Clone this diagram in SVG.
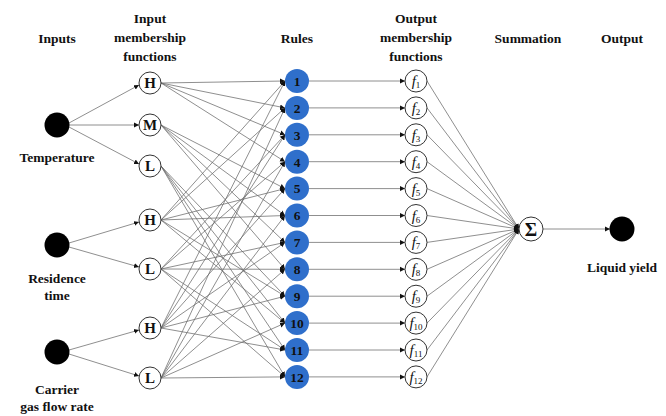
<svg xmlns="http://www.w3.org/2000/svg" width="666" height="416" viewBox="0 0 666 416">
<defs>
<marker id="ah" markerUnits="userSpaceOnUse" markerWidth="6" markerHeight="6" refX="5" refY="3" orient="auto">
<path d="M0,0.5 L5,3 L0,5.5 Z" fill="#111"/>
</marker>
<style>
text{font-family:'Liberation Serif','Times New Roman','DejaVu Serif',serif}
.hd{font-weight:bold;font-size:13.5px;fill:#111;text-anchor:middle}
.lb{font-weight:bold;font-size:13.5px;fill:#111;text-anchor:middle}
.mf{fill:#fff;stroke:#333;stroke-width:1}
.mt{font-weight:bold;font-size:15px;fill:#111;text-anchor:middle}
.sg{font-weight:bold;font-size:19px;fill:#111;text-anchor:middle}
.ru{fill:#2f6fcb;stroke:none}
.rt{font-weight:bold;font-size:13.5px;fill:#111;text-anchor:middle}
.ft{font-style:italic;font-size:15px;fill:#111;text-anchor:middle}
.sub{font-size:9px;font-style:normal}
.inp{fill:#000}
.ca{stroke:#6a6a6a;stroke-width:0.75;fill:none;marker-end:url(#ah)}
</style>
</defs>
<rect width="666" height="416" fill="#fff"/>
<g id="headers">
<text class="hd" x="57" y="43">Inputs</text>
<text class="hd" x="150" y="23">Input</text>
<text class="hd" x="150" y="42">membership</text>
<text class="hd" x="150" y="61">functions</text>
<text class="hd" x="297" y="43">Rules</text>
<text class="hd" x="416" y="23">Output</text>
<text class="hd" x="416" y="42">membership</text>
<text class="hd" x="416" y="61">functions</text>
<text class="hd" x="528" y="43">Summation</text>
<text class="hd" x="622" y="43">Output</text>
</g>
<g id="connectors">
<line class="ca" x1="69" y1="123" x2="139" y2="85"/>
<line class="ca" x1="69" y1="125" x2="139" y2="125"/>
<line class="ca" x1="69" y1="127" x2="139" y2="164"/>
<line class="ca" x1="69" y1="243" x2="139" y2="222"/>
<line class="ca" x1="69" y1="247" x2="139" y2="267"/>
<line class="ca" x1="69" y1="350" x2="139" y2="330"/>
<line class="ca" x1="69" y1="354" x2="139" y2="376"/>
<line class="ca" x1="161" y1="83" x2="285" y2="81"/>
<line class="ca" x1="161" y1="83" x2="285" y2="107.9"/>
<line class="ca" x1="161" y1="83" x2="285" y2="134.8"/>
<line class="ca" x1="161" y1="83" x2="285" y2="161.7"/>
<line class="ca" x1="161" y1="125" x2="285" y2="188.6"/>
<line class="ca" x1="161" y1="125" x2="285" y2="215.5"/>
<line class="ca" x1="161" y1="125" x2="285" y2="242.4"/>
<line class="ca" x1="161" y1="125" x2="285" y2="269.3"/>
<line class="ca" x1="161" y1="166" x2="285" y2="296.2"/>
<line class="ca" x1="161" y1="166" x2="285" y2="323.1"/>
<line class="ca" x1="161" y1="166" x2="285" y2="350"/>
<line class="ca" x1="161" y1="166" x2="285" y2="376.9"/>
<line class="ca" x1="161" y1="220" x2="285" y2="81"/>
<line class="ca" x1="161" y1="220" x2="285" y2="107.9"/>
<line class="ca" x1="161" y1="220" x2="285" y2="188.6"/>
<line class="ca" x1="161" y1="220" x2="285" y2="215.5"/>
<line class="ca" x1="161" y1="220" x2="285" y2="296.2"/>
<line class="ca" x1="161" y1="220" x2="285" y2="323.1"/>
<line class="ca" x1="161" y1="269" x2="285" y2="134.8"/>
<line class="ca" x1="161" y1="269" x2="285" y2="161.7"/>
<line class="ca" x1="161" y1="269" x2="285" y2="242.4"/>
<line class="ca" x1="161" y1="269" x2="285" y2="269.3"/>
<line class="ca" x1="161" y1="269" x2="285" y2="350"/>
<line class="ca" x1="161" y1="269" x2="285" y2="376.9"/>
<line class="ca" x1="161" y1="328" x2="285" y2="81"/>
<line class="ca" x1="161" y1="328" x2="285" y2="134.8"/>
<line class="ca" x1="161" y1="328" x2="285" y2="188.6"/>
<line class="ca" x1="161" y1="328" x2="285" y2="242.4"/>
<line class="ca" x1="161" y1="328" x2="285" y2="296.2"/>
<line class="ca" x1="161" y1="328" x2="285" y2="350"/>
<line class="ca" x1="161" y1="378" x2="285" y2="107.9"/>
<line class="ca" x1="161" y1="378" x2="285" y2="161.7"/>
<line class="ca" x1="161" y1="378" x2="285" y2="215.5"/>
<line class="ca" x1="161" y1="378" x2="285" y2="269.3"/>
<line class="ca" x1="161" y1="378" x2="285" y2="323.1"/>
<line class="ca" x1="161" y1="378" x2="285" y2="376.9"/>
<line class="ca" x1="309" y1="81" x2="405" y2="81"/>
<line class="ca" x1="309" y1="107.9" x2="405" y2="107.9"/>
<line class="ca" x1="309" y1="134.8" x2="405" y2="134.8"/>
<line class="ca" x1="309" y1="161.7" x2="405" y2="161.7"/>
<line class="ca" x1="309" y1="188.6" x2="405" y2="188.6"/>
<line class="ca" x1="309" y1="215.5" x2="405" y2="215.5"/>
<line class="ca" x1="309" y1="242.4" x2="405" y2="242.4"/>
<line class="ca" x1="309" y1="269.3" x2="405" y2="269.3"/>
<line class="ca" x1="309" y1="296.2" x2="405" y2="296.2"/>
<line class="ca" x1="309" y1="323.1" x2="405" y2="323.1"/>
<line class="ca" x1="309" y1="350" x2="405" y2="350"/>
<line class="ca" x1="309" y1="376.9" x2="405" y2="376.9"/>
<line class="ca" x1="427" y1="81" x2="519" y2="229"/>
<line class="ca" x1="427" y1="107.9" x2="519" y2="229"/>
<line class="ca" x1="427" y1="134.8" x2="519" y2="229"/>
<line class="ca" x1="427" y1="161.7" x2="519" y2="229"/>
<line class="ca" x1="427" y1="188.6" x2="519" y2="229"/>
<line class="ca" x1="427" y1="215.5" x2="519" y2="229"/>
<line class="ca" x1="427" y1="242.4" x2="519" y2="229"/>
<line class="ca" x1="427" y1="269.3" x2="519" y2="229"/>
<line class="ca" x1="427" y1="296.2" x2="519" y2="229"/>
<line class="ca" x1="427" y1="323.1" x2="519" y2="229"/>
<line class="ca" x1="427" y1="350" x2="519" y2="229"/>
<line class="ca" x1="427" y1="376.9" x2="519" y2="229"/>
<line class="ca" x1="543" y1="229" x2="610" y2="229"/>
</g>
<g id="in-temperature"><circle class="inp" cx="57" cy="125" r="12.5"/><text class="lb" x="57" y="162">Temperature</text></g>
<g id="in-residence"><circle class="inp" cx="57" cy="245" r="12.5"/><text class="lb" x="57" y="283">Residence</text><text class="lb" x="57" y="300">time</text></g>
<g id="in-carrier"><circle class="inp" cx="57" cy="352" r="12.5"/><text class="lb" x="57" y="394">Carrier</text><text class="lb" x="57" y="411">gas flow rate</text></g>
<g id="mf-t-h"><circle class="mf" cx="150" cy="83" r="11"/><text class="mt" x="150" y="88">H</text></g>
<g id="mf-t-m"><circle class="mf" cx="150" cy="125" r="11"/><text class="mt" x="150" y="130">M</text></g>
<g id="mf-t-l"><circle class="mf" cx="150" cy="166" r="11"/><text class="mt" x="150" y="171">L</text></g>
<g id="mf-r-h"><circle class="mf" cx="150" cy="220" r="11"/><text class="mt" x="150" y="225">H</text></g>
<g id="mf-r-l"><circle class="mf" cx="150" cy="269" r="11"/><text class="mt" x="150" y="274">L</text></g>
<g id="mf-c-h"><circle class="mf" cx="150" cy="328" r="11"/><text class="mt" x="150" y="333">H</text></g>
<g id="mf-c-l"><circle class="mf" cx="150" cy="378" r="11"/><text class="mt" x="150" y="383">L</text></g>
<g id="rule-1"><circle class="ru" cx="297" cy="81" r="12"/><text class="rt" x="297" y="85.8">1</text></g>
<g id="rule-2"><circle class="ru" cx="297" cy="107.9" r="12"/><text class="rt" x="297" y="112.7">2</text></g>
<g id="rule-3"><circle class="ru" cx="297" cy="134.8" r="12"/><text class="rt" x="297" y="139.6">3</text></g>
<g id="rule-4"><circle class="ru" cx="297" cy="161.7" r="12"/><text class="rt" x="297" y="166.5">4</text></g>
<g id="rule-5"><circle class="ru" cx="297" cy="188.6" r="12"/><text class="rt" x="297" y="193.4">5</text></g>
<g id="rule-6"><circle class="ru" cx="297" cy="215.5" r="12"/><text class="rt" x="297" y="220.3">6</text></g>
<g id="rule-7"><circle class="ru" cx="297" cy="242.4" r="12"/><text class="rt" x="297" y="247.2">7</text></g>
<g id="rule-8"><circle class="ru" cx="297" cy="269.3" r="12"/><text class="rt" x="297" y="274.1">8</text></g>
<g id="rule-9"><circle class="ru" cx="297" cy="296.2" r="12"/><text class="rt" x="297" y="301">9</text></g>
<g id="rule-10"><circle class="ru" cx="297" cy="323.1" r="12"/><text class="rt" x="297" y="327.9">10</text></g>
<g id="rule-11"><circle class="ru" cx="297" cy="350" r="12"/><text class="rt" x="297" y="354.8">11</text></g>
<g id="rule-12"><circle class="ru" cx="297" cy="376.9" r="12"/><text class="rt" x="297" y="381.7">12</text></g>
<g id="f-1"><circle class="mf" cx="416" cy="81" r="11"/><text class="ft" x="416" y="86">f<tspan class="sub" dy="2">1</tspan></text></g>
<g id="f-2"><circle class="mf" cx="416" cy="107.9" r="11"/><text class="ft" x="416" y="112.9">f<tspan class="sub" dy="2">2</tspan></text></g>
<g id="f-3"><circle class="mf" cx="416" cy="134.8" r="11"/><text class="ft" x="416" y="139.8">f<tspan class="sub" dy="2">3</tspan></text></g>
<g id="f-4"><circle class="mf" cx="416" cy="161.7" r="11"/><text class="ft" x="416" y="166.7">f<tspan class="sub" dy="2">4</tspan></text></g>
<g id="f-5"><circle class="mf" cx="416" cy="188.6" r="11"/><text class="ft" x="416" y="193.6">f<tspan class="sub" dy="2">5</tspan></text></g>
<g id="f-6"><circle class="mf" cx="416" cy="215.5" r="11"/><text class="ft" x="416" y="220.5">f<tspan class="sub" dy="2">6</tspan></text></g>
<g id="f-7"><circle class="mf" cx="416" cy="242.4" r="11"/><text class="ft" x="416" y="247.4">f<tspan class="sub" dy="2">7</tspan></text></g>
<g id="f-8"><circle class="mf" cx="416" cy="269.3" r="11"/><text class="ft" x="416" y="274.3">f<tspan class="sub" dy="2">8</tspan></text></g>
<g id="f-9"><circle class="mf" cx="416" cy="296.2" r="11"/><text class="ft" x="416" y="301.2">f<tspan class="sub" dy="2">9</tspan></text></g>
<g id="f-10"><circle class="mf" cx="416" cy="323.1" r="11"/><text class="ft" x="416" y="328.1">f<tspan class="sub" dy="2">10</tspan></text></g>
<g id="f-11"><circle class="mf" cx="416" cy="350" r="11"/><text class="ft" x="416" y="355">f<tspan class="sub" dy="2">11</tspan></text></g>
<g id="f-12"><circle class="mf" cx="416" cy="376.9" r="11"/><text class="ft" x="416" y="381.9">f<tspan class="sub" dy="2">12</tspan></text></g>
<g id="summation"><circle class="mf" cx="531" cy="229" r="12"/><text class="sg" x="531" y="235.5">Σ</text></g>
<g id="output"><circle class="inp" cx="622" cy="229" r="12.5"/><text class="lb" x="622" y="272">Liquid yield</text></g>
</svg>
